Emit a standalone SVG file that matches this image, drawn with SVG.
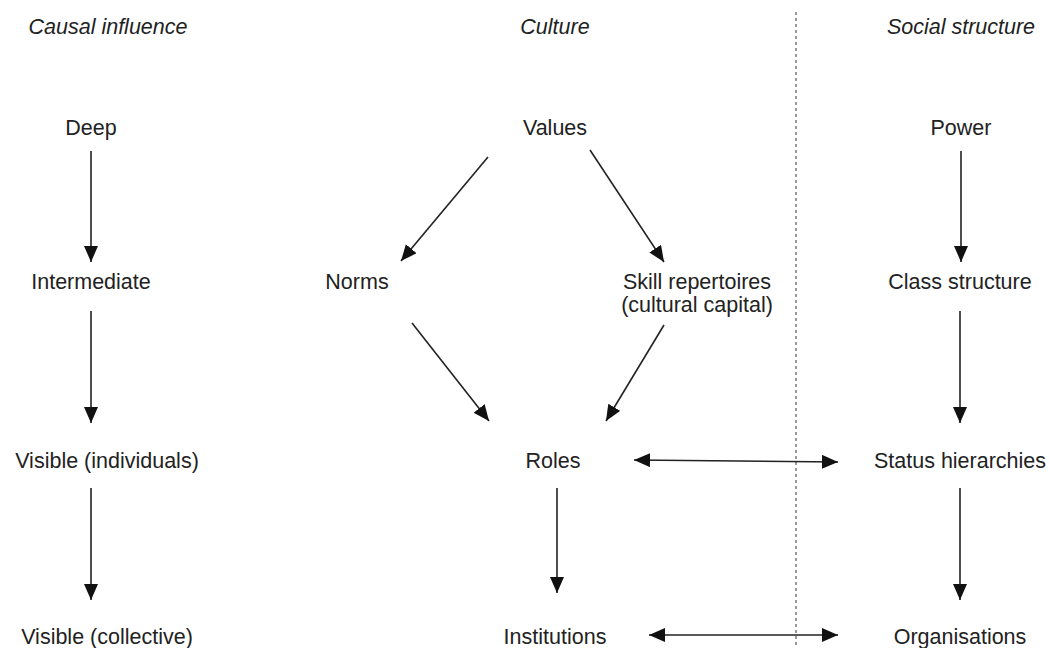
<svg xmlns="http://www.w3.org/2000/svg" width="1050" height="648" viewBox="0 0 1050 648">
<style>
text{font-family:"Liberation Sans",Arial,sans-serif;font-size:21.5px;fill:#222;text-anchor:middle}
.h{font-style:italic}
.c{stroke:#222;stroke-width:1.6;fill:none}
</style>
<defs>
<marker id="a" markerUnits="userSpaceOnUse" markerWidth="18" markerHeight="16" refX="16" refY="7" orient="auto-start-reverse">
<path d="M0,0 L16,7 L0,14 Z" fill="#111"/>
</marker>
</defs>
<rect width="1050" height="648" fill="#fff"/>
<line x1="796" y1="12" x2="796" y2="648" stroke="#999" stroke-width="2" stroke-dasharray="3,3"/>
<g id="headers">
<text class="h" x="108" y="34">Causal influence</text>
<text class="h" x="555" y="34">Culture</text>
<text class="h" x="961" y="34">Social structure</text>
</g>
<g id="deep"><text x="91" y="135">Deep</text></g>
<g id="intermediate"><text x="91" y="289">Intermediate</text></g>
<g id="visible-ind"><text x="107" y="468">Visible (individuals)</text></g>
<g id="visible-col"><text x="107" y="644">Visible (collective)</text></g>
<g id="values"><text x="555" y="135">Values</text></g>
<g id="norms"><text x="357" y="289">Norms</text></g>
<g id="skill"><text x="697" y="289">Skill repertoires</text><text x="697" y="312">(cultural capital)</text></g>
<g id="roles"><text x="553" y="468">Roles</text></g>
<g id="institutions"><text x="555" y="644">Institutions</text></g>
<g id="power"><text x="961" y="135">Power</text></g>
<g id="class"><text x="960" y="289">Class structure</text></g>
<g id="status"><text x="960" y="468">Status hierarchies</text></g>
<g id="organisations"><text x="960" y="644">Organisations</text></g>
<g id="connectors" class="c">
<line class="c" x1="91" y1="151" x2="91" y2="262" marker-end="url(#a)"/>
<line class="c" x1="91" y1="311" x2="91" y2="423" marker-end="url(#a)"/>
<line class="c" x1="91" y1="488" x2="91" y2="600" marker-end="url(#a)"/>
<line class="c" x1="488" y1="157" x2="401" y2="261" marker-end="url(#a)"/>
<line class="c" x1="590" y1="150" x2="664" y2="262" marker-end="url(#a)"/>
<line class="c" x1="412" y1="323" x2="489" y2="421" marker-end="url(#a)"/>
<line class="c" x1="664" y1="325" x2="606" y2="421" marker-end="url(#a)"/>
<line class="c" x1="557" y1="488" x2="557" y2="593" marker-end="url(#a)"/>
<line class="c" x1="634" y1="460" x2="838" y2="462" marker-start="url(#a)" marker-end="url(#a)"/>
<line class="c" x1="649" y1="635" x2="838" y2="635" marker-start="url(#a)" marker-end="url(#a)"/>
<line class="c" x1="961" y1="151" x2="961" y2="262" marker-end="url(#a)"/>
<line class="c" x1="960" y1="311" x2="960" y2="423" marker-end="url(#a)"/>
<line class="c" x1="960" y1="488" x2="960" y2="600" marker-end="url(#a)"/>
</g>
</svg>
